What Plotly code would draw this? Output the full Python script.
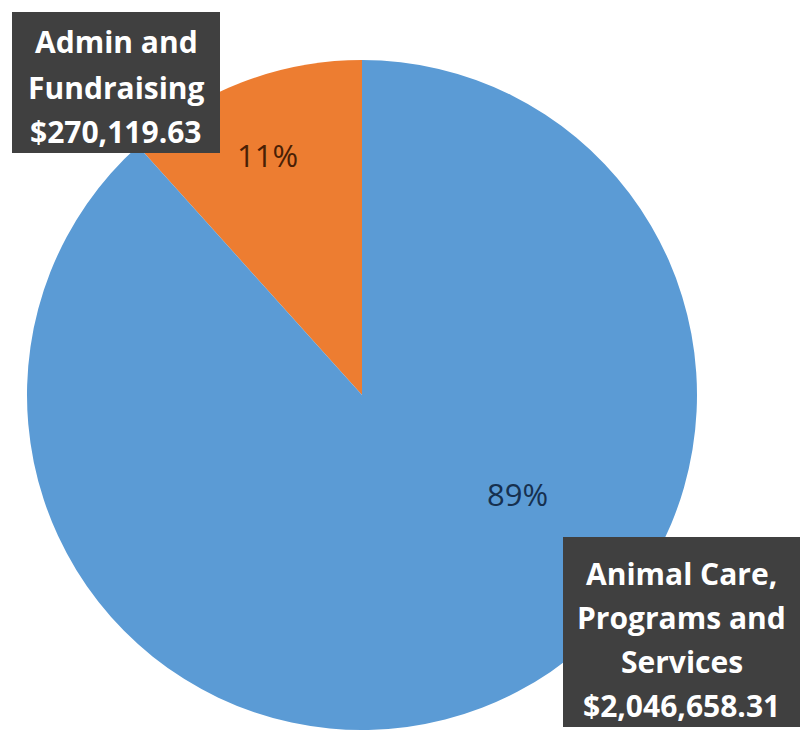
import plotly.graph_objects as go

categories = ["Admin and Fundraising", "Animal Care, Programs and Services"]
values = [270119.63, 2046658.31]
percent_labels = ["11%", "89%"]
box_lines = [["Admin and", "Fundraising", "$270,119.63"],
             ["Animal Care,", "Programs and", "Services", "$2,046,658.31"]]
colors = ["#ED7D31", "#5B9BD5"]
pct_colors = ["#4A1F05", "#16304F"]

W, H = 807, 730

first_frac = values[0] / sum(values)

fig = go.Figure(go.Pie(
    labels=categories,
    values=values,
    sort=False,
    direction="clockwise",
    rotation=-first_frac * 360,
    marker=dict(colors=colors, line=dict(width=0)),
    textinfo="none",
    hoverinfo="label+value+percent",
    domain=dict(x=[27/W, 697/W], y=[0.0, 1-60/H]),
    showlegend=False,
))

# percentage labels
pct_pos = [(267, 155), (517, 494)]
for (x, y), t, c in zip(pct_pos, percent_labels, pct_colors):
    fig.add_annotation(x=x/W, y=1-y/H, xref="paper", yref="paper", text=t, showarrow=False,
                       xanchor="center", yanchor="middle",
                       font=dict(family="Open Sans", size=31, color=c))

# dark label boxes
boxes = [(12, 12, 220, 153), (563, 537, 800, 727)]
line_centers = [[41, 87, 131], [573, 617, 661, 705]]
for (x0, y0, x1, y1) in boxes:
    fig.add_shape(type="rect", xref="paper", yref="paper",
                  x0=x0/W, x1=x1/W, y0=1-y0/H, y1=1-y1/H,
                  fillcolor="#404040", line=dict(width=0), layer="above")
for (x0, y0, x1, y1), lines, centers in zip(boxes, box_lines, line_centers):
    cx = (x0 + x1) / 2
    for t, cy in zip(lines, centers):
        fig.add_annotation(x=cx/W, y=1-cy/H, xref="paper", yref="paper",
                           text="<b>" + t + "</b>", showarrow=False,
                           xanchor="center", yanchor="middle",
                           font=dict(family="Open Sans", size=30, color="white"))

fig.update_layout(width=W, height=H, margin=dict(l=0, r=0, t=0, b=0),
                  paper_bgcolor="white", plot_bgcolor="white")
fig.write_html("out.html")
